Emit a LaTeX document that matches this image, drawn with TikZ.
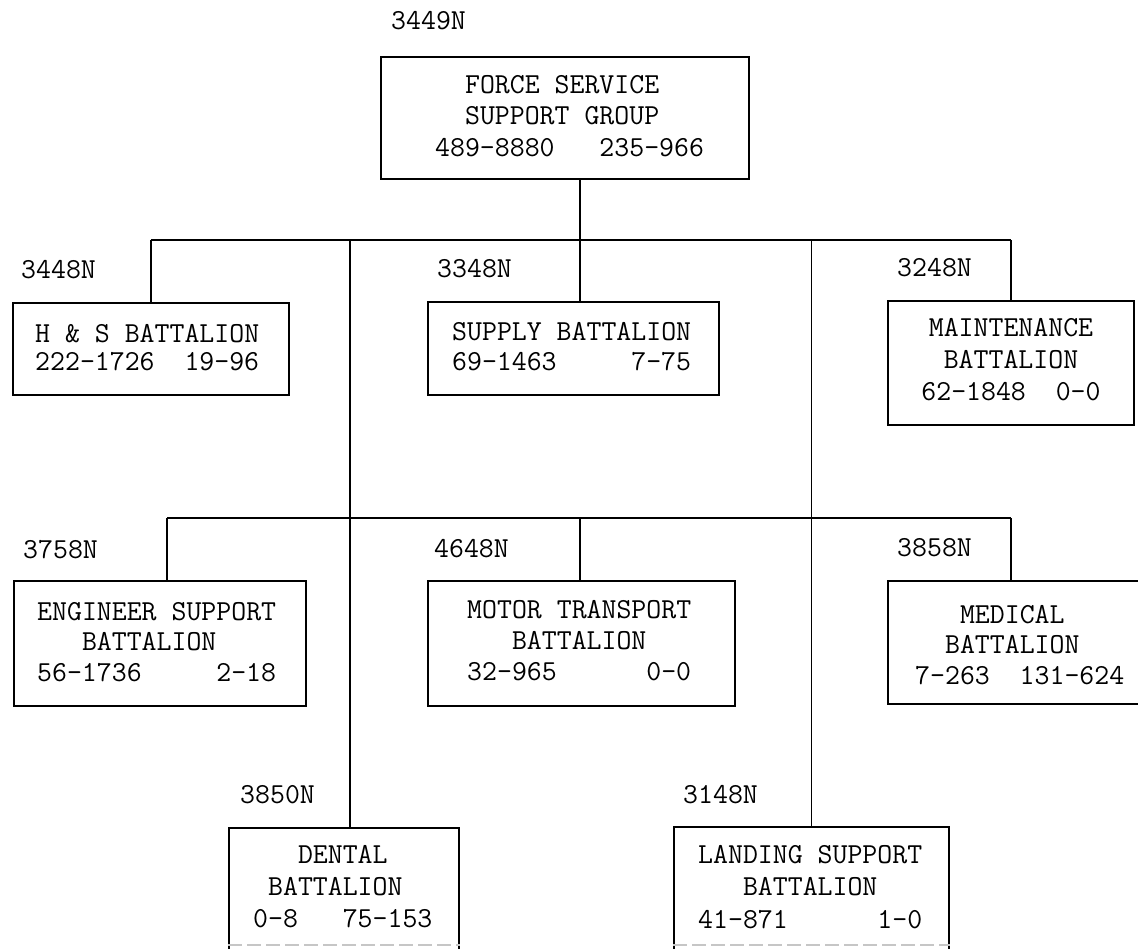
\documentclass[tikz,border=0pt]{standalone}
\newcommand\ttx[1]{\fontsize{29}{#1}\selectfont\ttfamily}
\newcommand\rowsl[1]{\begin{tabular}[t]{@{}l@{}}#1\end{tabular}}
\newcommand\rowsc[1]{\begin{tabular}[t]{@{}c@{}}#1\end{tabular}}
\begin{document}
\begin{tikzpicture}[x=1pt,y=-1pt,
  box/.style={draw, line width=1.6pt, inner sep=0pt, anchor=north west},
  txt/.style={anchor=base west, inner sep=0pt},
  ctxt/.style={anchor=base, inner sep=0pt},
  lbl/.style={anchor=base west, inner sep=0pt, font=\ttx{31}},
  wire/.style={line width=1.6pt},
  faint/.style={line width=1.4pt, gray!45, dash pattern=on 14pt off 5pt}]
\useasboundingbox (0,0) rectangle (1138,948);

% boxes
\node[box, minimum width=368pt, minimum height=122pt] (fssg) at (380,56) {};
\node[box, minimum width=276pt, minimum height=92pt] (hs) at (12,302) {};
\node[box, minimum width=291pt, minimum height=93pt] (sup) at (427,301) {};
\node[box, minimum width=246pt, minimum height=124pt] (maint) at (887,300) {};
\node[box, minimum width=292pt, minimum height=125pt] (eng) at (13,580) {};
\node[box, minimum width=307pt, minimum height=125pt] (mot) at (427,580) {};
\node[box, minimum width=280pt, minimum height=123pt] (med) at (887,580) {};
\node[box, minimum width=230pt, minimum height=140pt] (den) at (228,827) {};
\node[box, minimum width=275pt, minimum height=140pt] (land) at (673,826) {};

% box texts
\node[txt, font=\ttx{31.5}] (fssgt) at (435,93) {\rowsl{~~FORCE~SERVICE\\~~SUPPORT~GROUP\\489-8880~~~235-966}};
\node[txt, font=\ttx{28}] (hst) at (35,342) {\rowsl{H~\&~S~BATTALION\\222-1726~~19-96}};
\node[txt, font=\ttx{30}] (supt) at (452,340) {\rowsl{SUPPLY~BATTALION\\69-1463~~~~~7-75}};
\node[ctxt, font=\ttx{32}] (maintt) at (1011,336) {\rowsc{MAINTENANCE\\BATTALION\\62-1848~~0-0}};
\node[txt, font=\ttx{30.5}] (engt) at (37,620) {\rowsl{ENGINEER~SUPPORT\\~~~BATTALION\\56-1736~~~~~2-18}};
\node[txt, font=\ttx{31}] (mott) at (467,618) {\rowsl{MOTOR~TRANSPORT\\~~~BATTALION\\32-965~~~~~~0-0}};
\node[txt, font=\ttx{30.5}] (medt) at (915,623) {\rowsl{~~~MEDICAL\\~~BATTALION\\7-263~~131-624}};
\node[txt, font=\ttx{32}] (dent) at (253,863) {\rowsl{~~~DENTAL\\~BATTALION\\0-8~~~75-153}};
\node[txt, font=\ttx{32.5}] (landt) at (698,863) {\rowsl{LANDING~SUPPORT\\~~~BATTALION\\41-871~~~~~~1-0}};

% unit codes
\node[lbl] (c3449) at (391,29) {3449N};
\node[lbl] (c3448) at (21,278) {3448N};
\node[lbl] (c3348) at (437,277) {3348N};
\node[lbl] (c3248) at (897,276) {3248N};
\node[lbl] (c3758) at (23,558) {3758N};
\node[lbl] (c4648) at (434,557) {4648N};
\node[lbl] (c3858) at (897,556) {3858N};
\node[lbl] (c3850) at (240,803) {3850N};
\node[lbl] (c3148) at (683,803) {3148N};

% bus coordinates
\coordinate (trunk) at (580,240);
\coordinate (busA) at (0,240);
\coordinate (busB) at (0,518);
\coordinate (dline) at (350,0);
\coordinate (eline) at (167,0);
\coordinate (bot) at (0,945);

% connectors
\draw[wire] (fssg.south -| trunk) -- (trunk);
\draw[wire] (hs.north |- busA) -- (maint.north |- busA);
\draw[wire] (hs.north) -- (hs.north |- busA);
\draw[wire] (sup.north -| trunk) -- (trunk);
\draw[wire] (maint.north) -- (maint.north |- busA);
\draw[wire] (dline |- busA) -- (dline |- den.north);
\draw[wire] (land.north) -- (land.north |- busA);
\draw[wire] (eline |- busB) -- (maint.north |- busB);
\draw[wire] (eline |- eng.north) -- (eline |- busB);
\draw[wire] (mot.north -| trunk) -- (trunk |- busB);
\draw[wire] (maint.north |- med.north) -- (maint.north |- busB);

% faint lower edges
\draw[faint] (den.west |- bot) -- (den.east |- bot);
\draw[faint] (land.west |- bot) -- (land.east |- bot);
\end{tikzpicture}
\end{document}
